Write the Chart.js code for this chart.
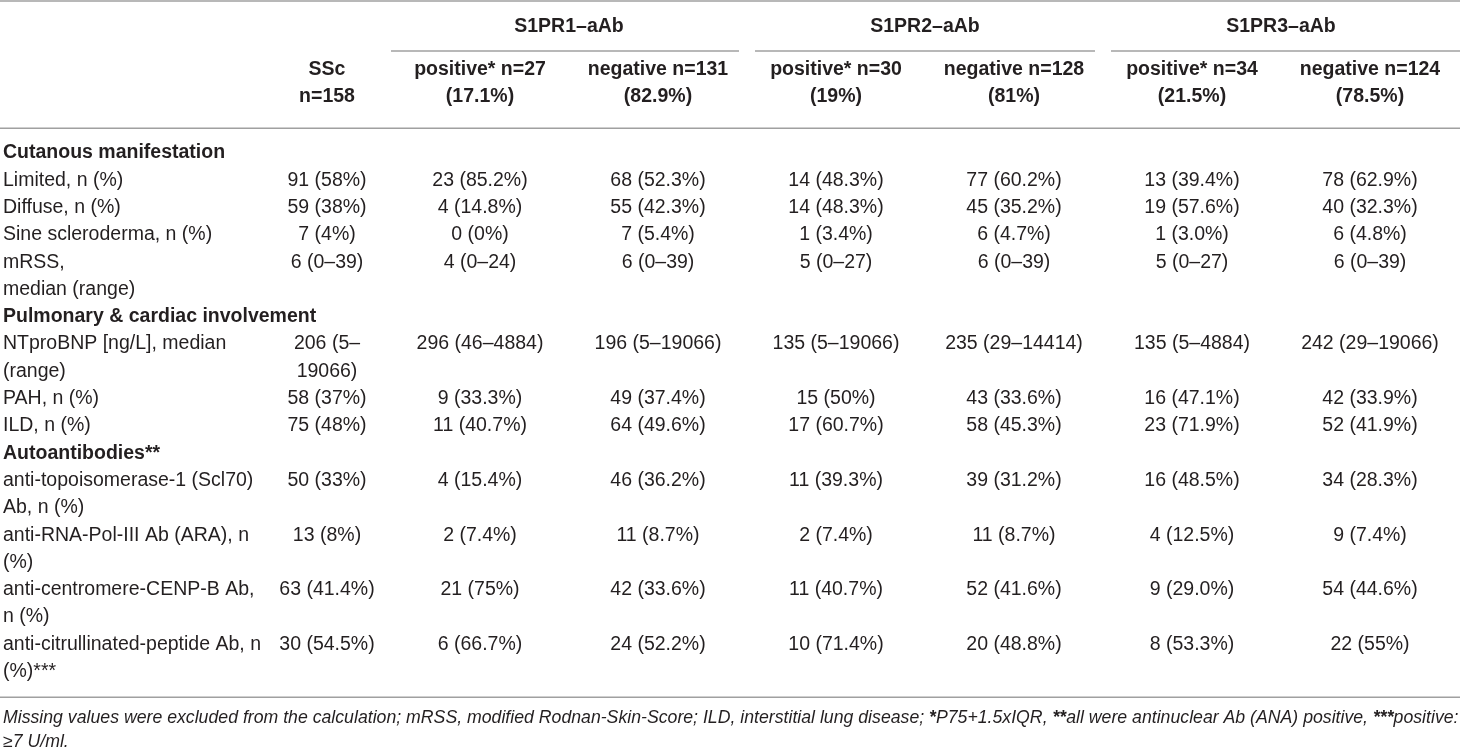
<!DOCTYPE html>
<html>
<head>
<meta charset="utf-8">
<title>S1PR autoantibodies in SSc</title>
<script src="https://cdn.jsdelivr.net/npm/chart.js@4.4.1/dist/chart.umd.min.js"></script>
<style>
    html, body { margin: 0; padding: 0; background: #ffffff; }
    #wrap { position: relative; width: 1460px; height: 753px; }
</style>
</head>
<body>
<div id="wrap"><canvas id="table"></canvas></div>
<script>
// Column headers (x axes, top): the whole cohort, then the six antibody sub-columns
const cohortLabel = ['SSc', 'n=158'];
const subgroupLabels = [
    ['positive* n=27', '(17.1%)'],
    ['negative n=131', '(82.9%)'],
    ['positive* n=30', '(19%)'],
    ['negative n=128', '(81%)'],
    ['positive* n=34', '(21.5%)'],
    ['negative n=124', '(78.5%)']
];
const groupLabels = ['S1PR1–aAb', 'S1PR2–aAb', 'S1PR3–aAb'];
const groupColumns = [[0, 1], [2, 3], [4, 5]];

// Row label lines (y axis), section headers are bold
const lineLabels = [
    'Cutanous manifestation',
    'Limited, n (%)',
    'Diffuse, n (%)',
    'Sine scleroderma, n (%)',
    'mRSS,',
    'median (range)',
    'Pulmonary & cardiac involvement',
    'NTproBNP [ng/L], median',
    '(range)',
    'PAH, n (%)',
    'ILD, n (%)',
    'Autoantibodies**',
    'anti-topoisomerase-1 (Scl70)',
    'Ab, n (%)',
    'anti-RNA-Pol-III Ab (ARA), n',
    '(%)',
    'anti-centromere-CENP-B Ab,',
    'n (%)',
    'anti-citrullinated-peptide Ab, n',
    '(%)***'
];
const sectionLabels = ['Cutanous manifestation', 'Pulmonary & cardiac involvement', 'Autoantibodies**'];

// The line each data row starts on
const rowKeys = [
    'Limited, n (%)',
    'Diffuse, n (%)',
    'Sine scleroderma, n (%)',
    'mRSS,',
    'NTproBNP [ng/L], median',
    'PAH, n (%)',
    'ILD, n (%)',
    'anti-topoisomerase-1 (Scl70)',
    'anti-RNA-Pol-III Ab (ARA), n',
    'anti-centromere-CENP-B Ab,',
    'anti-citrullinated-peptide Ab, n'
];

// Cell values, one array per column
const sscAll = ['91 (58%)', '59 (38%)', '7 (4%)', '6 (0–39)', ['206 (5–', '19066)'], '58 (37%)', '75 (48%)', '50 (33%)', '13 (8%)', '63 (41.4%)', '30 (54.5%)'];
const s1pr1Pos = ['23 (85.2%)', '4 (14.8%)', '0 (0%)', '4 (0–24)', '296 (46–4884)', '9 (33.3%)', '11 (40.7%)', '4 (15.4%)', '2 (7.4%)', '21 (75%)', '6 (66.7%)'];
const s1pr1Neg = ['68 (52.3%)', '55 (42.3%)', '7 (5.4%)', '6 (0–39)', '196 (5–19066)', '49 (37.4%)', '64 (49.6%)', '46 (36.2%)', '11 (8.7%)', '42 (33.6%)', '24 (52.2%)'];
const s1pr2Pos = ['14 (48.3%)', '14 (48.3%)', '1 (3.4%)', '5 (0–27)', '135 (5–19066)', '15 (50%)', '17 (60.7%)', '11 (39.3%)', '2 (7.4%)', '11 (40.7%)', '10 (71.4%)'];
const s1pr2Neg = ['77 (60.2%)', '45 (35.2%)', '6 (4.7%)', '6 (0–39)', '235 (29–14414)', '43 (33.6%)', '58 (45.3%)', '39 (31.2%)', '11 (8.7%)', '52 (41.6%)', '20 (48.8%)'];
const s1pr3Pos = ['13 (39.4%)', '19 (57.6%)', '1 (3.0%)', '5 (0–27)', '135 (5–4884)', '16 (47.1%)', '23 (71.9%)', '16 (48.5%)', '4 (12.5%)', '9 (29.0%)', '8 (53.3%)'];
const s1pr3Neg = ['78 (62.9%)', '40 (32.3%)', '6 (4.8%)', '6 (0–39)', '242 (29–19066)', '42 (33.9%)', '52 (41.9%)', '34 (28.3%)', '9 (7.4%)', '54 (44.6%)', '22 (55%)'];
const subgroupValues = [s1pr1Pos, s1pr1Neg, s1pr2Pos, s1pr2Neg, s1pr3Pos, s1pr3Neg];

// Footnote, [text, bold] segments per line
const footnote = [
    [['Missing values were excluded from the calculation; mRSS, modified Rodnan-Skin-Score; ILD, interstitial lung disease; ', false],
     ['*', true], ['P75+1.5xIQR, ', false], ['**', true], ['all were antinuclear Ab (ANA) positive, ', false],
     ['***', true], ['positive:', false]],
    [['≥7 U/ml.', false]]
];

const FONT = "'Liberation Sans', Arial, Helvetica, sans-serif";
const TEXT = '#231f20';
const RULE = '#a0a0a0';
const SIZE = 19.5;
const LINE_H = 1.4;
const PAD_LEFT = 2;
const Y_AXIS_W = 261;
const HEADER_H = 139.3;
// the two top axes share the chart width side by side
const COHORT_WEIGHT = 128;
const SUBGROUP_WEIGHT = 1068;

// category keys; the tick callbacks show the two-line headers
const cohortKey = cohortLabel.join(' ');
const subgroupKeys = subgroupLabels.map(l => l.join(' '));

// Draws the cell texts at the points placed by the scales, plus rules, group headers and footnote
const tablePlugin = {
    id: 'tableText',
    afterDraw(chart, args, opts) {
        const ctx = chart.ctx;
        const xs = chart.scales.x;
        const area = chart.chartArea;
        const lh = SIZE * LINE_H;
        ctx.save();

        // cells
        ctx.fillStyle = TEXT;
        ctx.font = `${SIZE}px ${FONT}`;
        ctx.textAlign = 'center';
        ctx.textBaseline = 'middle';
        chart.data.datasets.forEach((ds, di) => {
            chart.getDatasetMeta(di).data.forEach((el, i) => {
                const text = ds.data[i].text;
                const lines = Array.isArray(text) ? text : [text];
                lines.forEach((t, k) => ctx.fillText(t, el.x, el.y + k * lh));
            });
        });

        // rules
        ctx.strokeStyle = RULE;
        ctx.lineWidth = 1.5;
        const hline = (y, x0, x1) => {
            ctx.beginPath();
            ctx.moveTo(x0, y);
            ctx.lineTo(x1, y);
            ctx.stroke();
        };
        hline(opts.topRule, 0, chart.width);
        hline(area.top - opts.headRuleGap, 0, chart.width);
        hline(area.bottom + opts.footRuleGap, 0, chart.width);

        // group headers over their sub-columns
        const half = (xs.getPixelForValue(1) - xs.getPixelForValue(0)) / 2;
        ctx.font = `bold ${SIZE}px ${FONT}`;
        groupLabels.forEach((g, i) => {
            const [c0, c1] = groupColumns[i];
            const x0 = xs.getPixelForValue(c0) - half;
            const x1 = xs.getPixelForValue(c1) + half;
            ctx.fillText(g, (x0 + x1) / 2, opts.groupY);
            const first = i === 0;
            const last = i === groupLabels.length - 1;
            hline(opts.groupRuleY, first ? x0 : x0 + opts.groupInset, last ? chart.width : x1 - opts.groupInset);
        });

        // footnote
        ctx.textAlign = 'left';
        footnote.forEach((line, li) => {
            let x = opts.footX;
            const y = area.bottom + opts.footY + li * opts.footLine;
            line.forEach(([t, bold]) => {
                ctx.font = `italic ${bold ? 'bold ' : ''}${opts.footSize}px ${FONT}`;
                ctx.fillText(t, x, y);
                x += ctx.measureText(t).width;
            });
        });
        ctx.restore();
    }
};

const cellDataset = (key, values, axisID) => ({
    label: key,
    xAxisID: axisID,
    data: rowKeys.map((row, i) => ({ x: key, y: row, text: values[i] })),
    pointRadius: 0,
    pointHoverRadius: 0,
    showLine: false
});

const datasets = [cellDataset(cohortKey, sscAll, 'xAll')]
    .concat(subgroupValues.map((values, c) => cellDataset(subgroupKeys[c], values, 'x')));

const headerTicks = {
    autoSkip: false,
    maxRotation: 0,
    padding: 20.65,
    color: TEXT,
    font: { family: FONT, size: SIZE, weight: 'bold', lineHeight: LINE_H }
};

// fixed header height; no extra side padding for the header labels
const fitHeader = (scale) => {
    scale.height = HEADER_H;
    scale.paddingLeft = 0;
    scale.paddingRight = 0;
};

new Chart(document.getElementById('table'), {
    type: 'scatter',
    data: { datasets },
    plugins: [tablePlugin],
    options: {
        responsive: true,
        maintainAspectRatio: false,
        animation: false,
        events: [],
        layout: { padding: { left: PAD_LEFT, right: 1, top: 0, bottom: 67.7 } },
        plugins: {
            legend: { display: false },
            tooltip: { enabled: false },
            tableText: {
                topRule: 1,
                headRuleGap: 11,
                footRuleGap: 12,
                groupY: 27,
                groupRuleY: 51,
                groupInset: 8,
                footX: 3,
                footY: 33,
                footLine: 24,
                footSize: 17.7
            }
        },
        scales: {
            xAll: {
                type: 'category',
                labels: [cohortKey],
                position: 'top',
                stack: 'columns',
                stackWeight: COHORT_WEIGHT,
                weight: 1,
                offset: true,
                grid: { display: false },
                border: { display: false },
                ticks: { ...headerTicks, callback: () => cohortLabel },
                afterFit: fitHeader
            },
            x: {
                type: 'category',
                labels: subgroupKeys,
                position: 'top',
                stack: 'columns',
                stackWeight: SUBGROUP_WEIGHT,
                weight: 0,
                offset: true,
                grid: { display: false },
                border: { display: false },
                ticks: { ...headerTicks, callback: (value, index) => subgroupLabels[index] },
                afterFit: fitHeader
            },
            y: {
                type: 'category',
                labels: lineLabels,
                position: 'left',
                offset: true,
                grid: { display: false },
                border: { display: false },
                ticks: {
                    autoSkip: false,
                    // mirrored labels are not clipped to the axis box, so long row labels can run on
                    mirror: true,
                    padding: 3 - PAD_LEFT - Y_AXIS_W,
                    color: TEXT,
                    font: (ctx) => ({
                        family: FONT,
                        size: SIZE,
                        lineHeight: LINE_H,
                        weight: sectionLabels.includes(lineLabels[ctx.index]) ? 'bold' : 'normal'
                    })
                },
                afterFit: (scale) => {
                    scale.width = Y_AXIS_W;
                    scale.paddingTop = 0;
                    scale.paddingBottom = 0;
                }
            }
        }
    }
});
</script>
</body>
</html>
